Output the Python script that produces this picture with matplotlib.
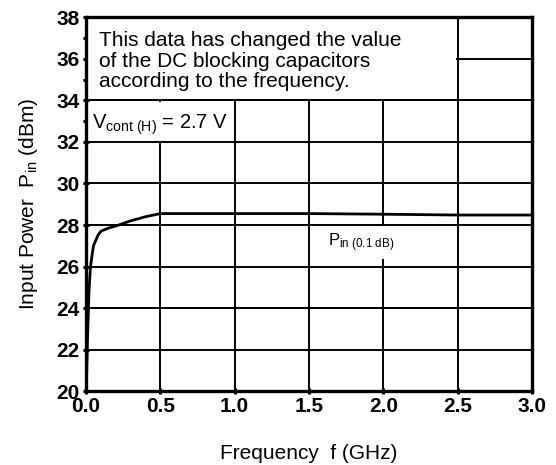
import matplotlib
matplotlib.use('Agg')
from matplotlib import pyplot as plt
from matplotlib.patches import Rectangle

# curve (GHz, dBm)
freq = [0.0, 0.005, 0.01, 0.02, 0.03, 0.05, 0.08, 0.1, 0.15, 0.2, 0.3, 0.4, 0.5,
        1.0, 1.5, 2.0, 2.5, 3.0]
pin = [20.0, 21.0, 22.5, 24.8, 26.0, 27.0, 27.5, 27.7, 27.85, 27.95, 28.2, 28.4, 28.55,
       28.55, 28.55, 28.52, 28.48, 28.48]

xTicks = [0.0, 0.5, 1.0, 1.5, 2.0, 2.5, 3.0]
xTickLabels = ['0.0', '0.5', '1.0', '1.5', '2.0', '2.5', '3.0']
yTicks = [20, 22, 24, 26, 28, 30, 32, 34, 36, 38]
yMinor = [33, 35, 37]

noteText = ('This data has changed the value\n'
            'of the DC blocking capacitors\n'
            'according to the frequency.')

plt.rcParams['font.family'] = ['Liberation Sans', 'DejaVu Sans']
plt.rcParams['mathtext.fontset'] = 'custom'
plt.rcParams['mathtext.rm'] = 'Liberation Sans'
plt.rcParams['mathtext.it'] = 'Liberation Sans'

fig = plt.figure(figsize=(5.56, 4.65), dpi=100)
ax = fig.add_axes([0.1547, 0.1591, 0.8021, 0.8033])

ax.set_xlim(0, 3.0)
ax.set_ylim(20, 38)
ax.set_xticks(xTicks)
ax.set_xticklabels(xTickLabels)
ax.set_yticks(yTicks)
ax.set_yticks(yMinor, minor=True)

ax.set_axisbelow(True)
ax.grid(True, color='black', linewidth=1.4, zorder=0)

for side in ax.spines.values():
    side.set_linewidth(2.4)
    side.set_zorder(5)

ax.tick_params(which='both', direction='inout', length=5, width=2.2, labelsize=15, pad=2)
for lab in ax.get_xticklabels() + ax.get_yticklabels():
    lab.set_fontweight('bold')

# white panels hiding the grid behind the notes
ax.add_patch(Rectangle((0, 34.06), 2.49, 3.94, facecolor='white', edgecolor='none', zorder=1))
ax.add_patch(Rectangle((0, 32.06), 0.97, 1.88, facecolor='white', edgecolor='none', zorder=1))

ax.plot(freq, pin, color='black', linewidth=2.0, zorder=3)

ax.text(0.09, 35.9, noteText, fontsize=15, va='center', ha='left', linespacing=1.12, zorder=4)
ax.text(0.04, 32.85, r'V$_{\rm cont\ (H)}$ = 2.7 V', fontsize=14.5, va='center', ha='left', zorder=4)
ax.text(1.63, 27.15, r'P$_{\rm in\ (0.1\ dB)}$', fontsize=12, va='center', ha='left', zorder=4,
        bbox=dict(facecolor='white', edgecolor='none', pad=4))

ax.set_xlabel('Frequency  f (GHz)', fontsize=15, labelpad=20)
ax.set_ylabel(r'Input Power  P$_{\rm in}$ (dBm)', fontsize=15, labelpad=12)

fig.savefig('out.png', dpi=100)
